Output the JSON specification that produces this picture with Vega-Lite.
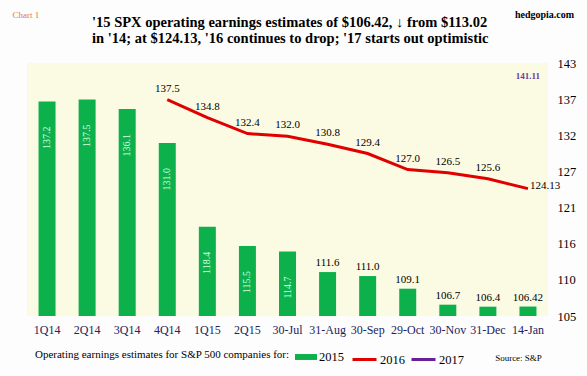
{
  "$schema": "https://vega.github.io/schema/vega-lite/v6.json",
  "width": 521,
  "height": 253,
  "autosize": {"type": "none"},
  "padding": {"left": 27, "top": 63, "right": 39, "bottom": 60},
  "background": "#fdfdfd",
  "config": {
    "font": "Liberation Serif",
    "view": {"fill": "#fbfbe4", "stroke": null}
  },
  "title": {
    "text": ["'15 SPX operating earnings estimates of $106.42, ↓ from $113.02", "in '14; at $124.13, '16 continues to drop; '17 starts out optimistic"],
    "anchor": "start",
    "frame": "group",
    "dx": 65,
    "offset": -37,
    "fontSize": 14.5,
    "lineHeight": 16,
    "font": "Liberation Serif",
    "fontWeight": "bold",
    "color": "#000000",
    "limit": 600
  },
  "data": {
    "values": [
      {"period": "1Q14", "series": "2015", "value": 137.2},
      {"period": "2Q14", "series": "2015", "value": 137.5},
      {"period": "3Q14", "series": "2015", "value": 136.1},
      {"period": "4Q14", "series": "2015", "value": 131.0},
      {"period": "1Q15", "series": "2015", "value": 118.4},
      {"period": "2Q15", "series": "2015", "value": 115.5},
      {"period": "30-Jul", "series": "2015", "value": 114.7},
      {"period": "31-Aug", "series": "2015", "value": 111.6},
      {"period": "30-Sep", "series": "2015", "value": 111.0},
      {"period": "29-Oct", "series": "2015", "value": 109.1},
      {"period": "30-Nov", "series": "2015", "value": 106.7},
      {"period": "31-Dec", "series": "2015", "value": 106.4},
      {"period": "14-Jan", "series": "2015", "value": 106.42},
      {"period": "4Q14", "series": "2016", "value": 137.5},
      {"period": "1Q15", "series": "2016", "value": 134.8},
      {"period": "2Q15", "series": "2016", "value": 132.4},
      {"period": "30-Jul", "series": "2016", "value": 132.0},
      {"period": "31-Aug", "series": "2016", "value": 130.8},
      {"period": "30-Sep", "series": "2016", "value": 129.4},
      {"period": "29-Oct", "series": "2016", "value": 127.0},
      {"period": "30-Nov", "series": "2016", "value": 126.5},
      {"period": "31-Dec", "series": "2016", "value": 125.6},
      {"period": "14-Jan", "series": "2016", "value": 124.13},
      {"period": "14-Jan", "series": "2017", "value": 141.11}
    ]
  },
  "transform": [
    {"calculate": "abs(datum.value * 10 - round(datum.value * 10)) < 0.000001 ? format(datum.value, '.1f') : format(datum.value, '.2f')", "as": "lbl"}
  ],
  "encoding": {
    "y": {
      "field": "value",
      "type": "quantitative",
      "scale": {"domain": [105, 143], "zero": false, "nice": false},
      "axis": {
        "orient": "right",
        "values": [105, 110.43, 115.86, 121.29, 126.71, 132.14, 137.57, 143],
        "labelExpr": "datum.value > 137 && datum.value < 138 ? '137' : format(datum.value, '.0f')",
        "grid": false,
        "ticks": false,
        "domain": false,
        "labelPadding": 9,
        "labelFontSize": 12.5,
        "labelColor": "#000000",
        "labelFont": "Liberation Serif",
        "title": "hedgopia.com",
        "titleAngle": 0,
        "titleX": -4,
        "titleY": -49,
        "titleAlign": "center",
        "titleBaseline": "middle",
        "titleFontSize": 10,
        "titleFontWeight": "bold",
        "titleFont": "Liberation Serif",
        "titleColor": "#000000"
      }
    }
  },
  "layer": [
    {
      "transform": [{"filter": "datum.series == '2015'"}],
      "mark": {"type": "bar", "size": 17},
      "encoding": {
        "x": {
          "field": "period",
          "type": "nominal",
          "sort": ["1Q14", "2Q14", "3Q14", "4Q14", "1Q15", "2Q15", "30-Jul", "31-Aug", "30-Sep", "29-Oct", "30-Nov", "31-Dec", "14-Jan"],
          "scale": {"paddingInner": 0, "paddingOuter": 0},
          "axis": {
            "orient": "bottom",
            "labelAngle": 0,
            "ticks": false,
            "domain": false,
            "labelPadding": 8,
            "labelFontSize": 12,
            "labelFont": "Liberation Serif",
            "labelColor": "#22225e",
            "title": "Source: S&P",
            "titleX": 491,
            "titleY": 41,
            "titleAlign": "center",
            "titleBaseline": "middle",
            "titleFontSize": 9,
            "titleFontWeight": "normal",
            "titleFont": "Liberation Serif",
            "titleColor": "#000000"
          }
        },
        "y2": {"datum": 105},
        "fill": {
          "field": "series",
          "type": "nominal",
          "scale": {"domain": ["2015"], "range": ["#0db14b"]},
          "legend": {
            "orient": "none",
            "legendX": 8,
            "legendY": 283,
            "direction": "horizontal",
            "title": "Operating earnings estimates for S&P 500 companies for:",
            "titleOrient": "left",
            "titleLimit": 400,
            "titleFontSize": 11,
            "titleFontWeight": "normal",
            "titleFont": "Liberation Serif",
            "titleColor": "#000000",
            "titlePadding": 5,
            "titleBaseline": "middle",
            "labelFontSize": 12.5,
            "labelFont": "Liberation Serif",
            "labelColor": "#000000",
            "labelOffset": 2,
            "symbolType": "M-1,-0.27H1V0.27H-1Z",
            "symbolSize": 484,
            "symbolStrokeWidth": 0
          }
        }
      }
    },
    {
      "transform": [{"filter": "datum.series == '2015' && datum.value > 113"}],
      "mark": {"type": "text", "angle": 270, "align": "right", "baseline": "middle", "dx": -25, "fontSize": 10, "color": "#d4ffe0"},
      "encoding": {
        "x": {
          "field": "period",
          "type": "nominal",
          "sort": ["1Q14", "2Q14", "3Q14", "4Q14", "1Q15", "2Q15", "30-Jul", "31-Aug", "30-Sep", "29-Oct", "30-Nov", "31-Dec", "14-Jan"],
          "axis": {
            "orient": "top",
            "labels": false,
            "ticks": false,
            "domain": false,
            "title": "Chart 1",
            "titleX": -15,
            "titleY": -49,
            "titleAlign": "left",
            "titleBaseline": "middle",
            "titleFontSize": 9,
            "titleFontWeight": "normal",
            "titleFont": "Liberation Serif",
            "titleColor": "#e8763a"
          }
        },
        "text": {"field": "lbl"}
      }
    },
    {
      "transform": [{"filter": "datum.series == '2015' && datum.value < 113"}],
      "mark": {"type": "text", "baseline": "bottom", "dy": -4, "fontSize": 11, "color": "#000000"},
      "encoding": {
        "x": {
          "field": "period",
          "type": "nominal",
          "sort": ["1Q14", "2Q14", "3Q14", "4Q14", "1Q15", "2Q15", "30-Jul", "31-Aug", "30-Sep", "29-Oct", "30-Nov", "31-Dec", "14-Jan"],
          "axis": null
        },
        "text": {"field": "lbl"}
      }
    },
    {
      "transform": [{"filter": "datum.series == '2016'"}],
      "mark": {"type": "line", "strokeWidth": 3},
      "encoding": {
        "x": {
          "field": "period",
          "type": "nominal",
          "sort": ["1Q14", "2Q14", "3Q14", "4Q14", "1Q15", "2Q15", "30-Jul", "31-Aug", "30-Sep", "29-Oct", "30-Nov", "31-Dec", "14-Jan"],
          "axis": null
        },
        "stroke": {
          "field": "series",
          "type": "nominal",
          "scale": {"domain": ["2016", "2017"], "range": ["#e10000", "#6a1f9a"]},
          "legend": {
            "orient": "none",
            "legendX": 324,
            "legendY": 283,
            "direction": "horizontal",
            "title": null,
            "labelFontSize": 12.5,
            "labelFont": "Liberation Serif",
            "labelColor": "#000000",
            "labelOffset": 2,
            "columnPadding": 0,
            "symbolType": "stroke",
            "symbolSize": 576,
            "symbolStrokeWidth": 3
          }
        }
      }
    },
    {
      "transform": [{"filter": "datum.series == '2016' && datum.period != '14-Jan'"}],
      "mark": {"type": "text", "baseline": "bottom", "dy": -6, "fontSize": 11, "color": "#000000"},
      "encoding": {
        "x": {
          "field": "period",
          "type": "nominal",
          "sort": ["1Q14", "2Q14", "3Q14", "4Q14", "1Q15", "2Q15", "30-Jul", "31-Aug", "30-Sep", "29-Oct", "30-Nov", "31-Dec", "14-Jan"],
          "axis": null
        },
        "text": {"field": "lbl"}
      }
    },
    {
      "transform": [{"filter": "datum.series == '2016' && datum.period == '14-Jan'"}],
      "mark": {"type": "text", "align": "left", "baseline": "middle", "dx": 2, "dy": -3, "fontSize": 11, "color": "#000000"},
      "encoding": {
        "x": {
          "field": "period",
          "type": "nominal",
          "sort": ["1Q14", "2Q14", "3Q14", "4Q14", "1Q15", "2Q15", "30-Jul", "31-Aug", "30-Sep", "29-Oct", "30-Nov", "31-Dec", "14-Jan"],
          "axis": null
        },
        "text": {"field": "lbl"}
      }
    },
    {
      "transform": [{"filter": "datum.series == '2017'"}],
      "mark": {"type": "text", "baseline": "middle", "fontSize": 9, "fontWeight": "bold", "color": "#6a3d9a"},
      "encoding": {
        "x": {
          "field": "period",
          "type": "nominal",
          "sort": ["1Q14", "2Q14", "3Q14", "4Q14", "1Q15", "2Q15", "30-Jul", "31-Aug", "30-Sep", "29-Oct", "30-Nov", "31-Dec", "14-Jan"],
          "axis": null
        },
        "text": {"field": "lbl"}
      }
    }
  ],
  "resolve": {"axis": {"x": "independent"}}
}
